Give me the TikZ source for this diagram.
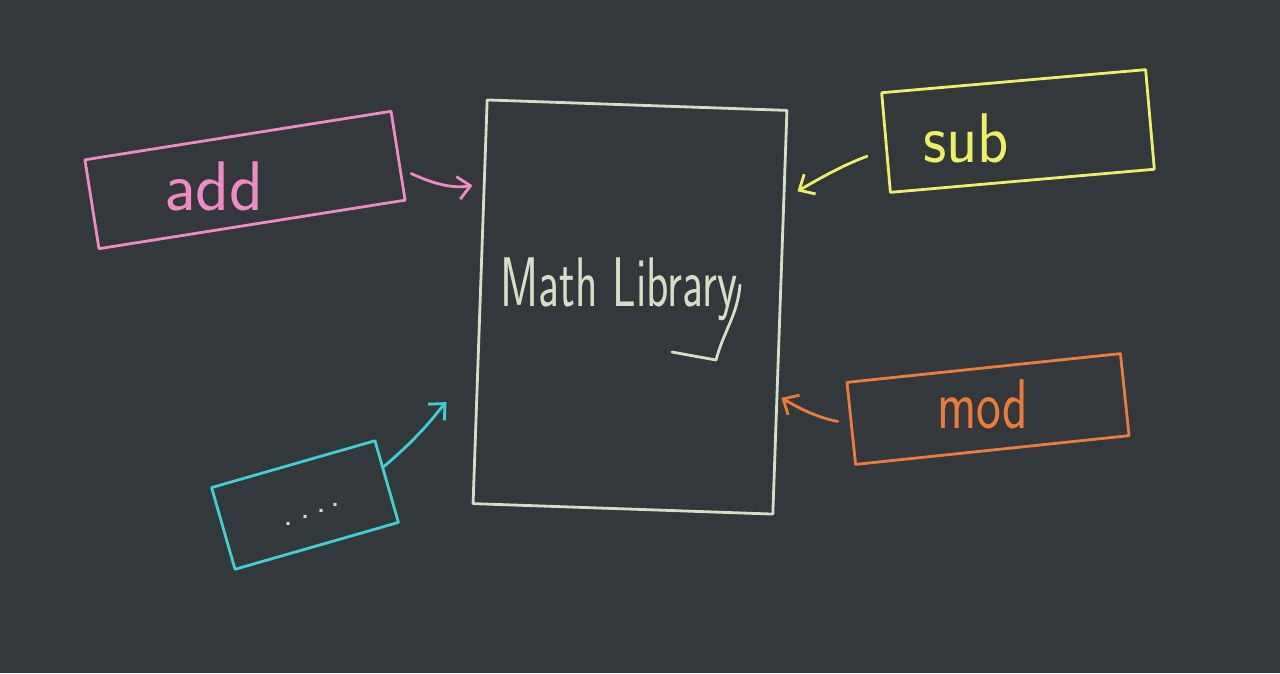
\documentclass[tikz,border=0pt]{standalone}
\usepackage{tikz}
\usetikzlibrary{arrows.meta}
\definecolor{board}{RGB}{50,56,60}
\definecolor{chalk}{RGB}{214,222,198}
\definecolor{pinkpen}{RGB}{238,138,196}
\definecolor{yellowpen}{RGB}{238,240,100}
\definecolor{orangepen}{RGB}{238,122,58}
\definecolor{cyanpen}{RGB}{62,208,210}

\begin{document}
\begin{tikzpicture}[x=0.02cm,y=-0.02cm,line width=1.6pt,line cap=round,line join=round,
	box/.style={draw,rectangle,inner sep=0pt},
	hand/.style={font=\sffamily\fontsize{40}{44}\selectfont,anchor=base},
	link/.style={-{Straight Barb[length=7pt,width=13pt]}}]
	\fill[board] (0,0) rectangle (1280,673);
	\node[box,chalk,minimum width=6cm,minimum height=8.08cm,rotate=-2] (lib) at (630,307) {};
	\node[box,pinkpen,minimum width=6.2cm,minimum height=1.8cm,rotate=9] (add) at (245,180) {};
	\node[box,yellowpen,minimum width=5.3cm,minimum height=2cm,rotate=5] (sub) at (1018,131) {};
	\node[box,orangepen,minimum width=5.5cm,minimum height=1.65cm,rotate=6] (mod) at (988,409) {};
	\node[box,cyanpen,minimum width=3.4cm,minimum height=1.7cm,rotate=16] (more) at (305,505) {};
	\node[hand,chalk,xscale=0.66] (libtxt) at (619,306) {Math Library};
	\node[hand,pinkpen] (addtxt) at (214,210) {add};
	\node[hand,yellowpen,xscale=0.92] (subtxt) at (966,162) {sub};
	\node[hand,orangepen,xscale=0.75] (modtxt) at (983,428) {mod};
	\node[hand,chalk,font=\sffamily\fontsize{22}{26}\selectfont] (dots) at (312,525) {.\hspace{3.5pt}\raisebox{3.5pt}{.}\hspace{3.5pt}\raisebox{7pt}{.}\hspace{2pt}\raisebox{10.5pt}{.}};
	\draw[chalk] (672,352) -- (716,360) to[out=75,in=-95] (740,285);
	\path[link,pinkpen]
	(add.-5) edge[out=-25,in=190,shorten <=6pt,shorten >=6pt] (lib.142);
	\path[link,yellowpen]
	(sub.183) edge[out=200,in=30,shorten <=11pt,shorten >=8pt] (lib.37);
	\path[link,orangepen]
	(mod.west) edge[out=170,in=-30,shorten <=7pt,shorten >=2pt] (lib.-29);
	\path[link,cyanpen]
	(more.10) edge[out=40,in=225,shorten >=24pt] (lib.205);
\end{tikzpicture}
\end{document}
